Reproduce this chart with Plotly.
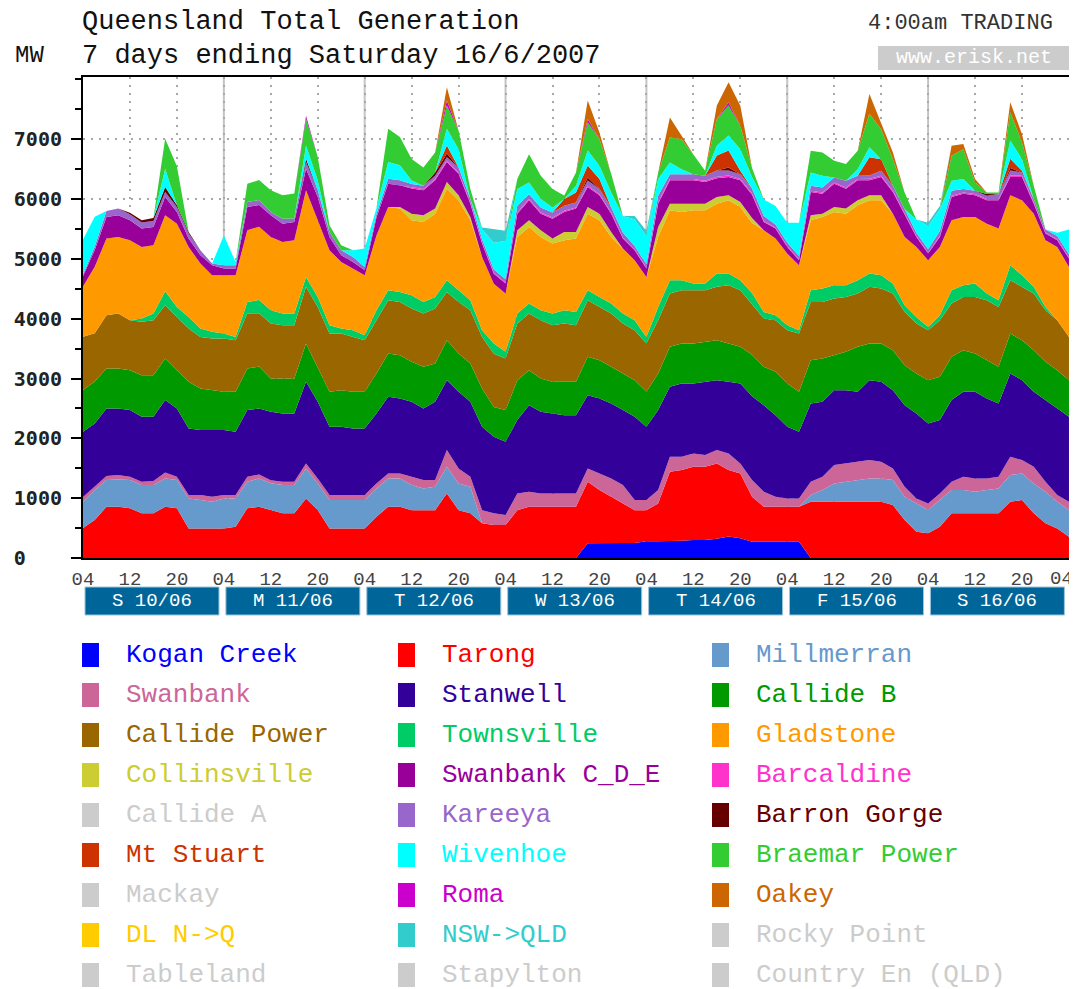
import plotly.graph_objects as go
import pandas as pd

# ---------------- data (MW, 2-hourly, trading days start 04:00) ----------------
times = pd.date_range("2007-06-10 04:00", "2007-06-17 04:00", freq="2h")

kogan_creek = [0,0,0,0,0,0,0,0,0,0,0,0, 0,0,0,0,0,0,0,0,0,0,0,0,
               0,0,0,0,0,0,0,0,0,0,0,0, 0,0,0,0,0,0,0,245,250,250,250,250,
               280,280,280,290,300,300,320,360,330,273,273,273, 273,273,0,0,0,0,0,0,0,0,0,0,
               0,0,0,0,0,0,0,0,0,0,0,0,0]
tarong = [500,635,857,857,830,746,746,857,830,495,495,495, 495,523,830,857,800,746,746,996,802,495,495,495,
          495,690,857,857,800,800,800,1080,800,746,580,551, 551,800,857,857,857,857,857,1030,886,774,663,550,
          520,633,1162,1180,1225,1225,1261,1110,1084,751,584,584, 584,584,941,941,941,941,941,941,941,885,635,440,
          412,523,746,746,746,746,746,941,969,746,579,495,356]
millmerran = [440,500,446,457,473,473,473,473,473,501,473,446, 501,473,445,473,450,473,473,501,445,474,474,474,
              474,473,473,473,419,363,391,445,447,445,0,0, 0,0,0,0,0,0,0,0,0,0,0,0,
              0,0,0,0,0,0,0,0,0,0,0,0, 0,0,111,195,306,334,362,389,389,418,389,473,
              390,446,390,390,362,390,417,445,445,501,529,446,446]
swanbank = [80,55,67,72,55,56,67,100,55,56,84,83, 56,56,83,67,50,56,56,84,83,83,83,83,
            83,84,84,84,139,140,112,279,251,167,220,195, 167,280,251,223,223,223,223,223,278,306,306,169,
            169,223,250,222,223,195,223,278,167,279,251,167, 139,139,223,222,306,306,306,307,279,195,167,83,
            111,111,139,222,222,194,195,306,223,278,167,111,139]
stanwell = [1090,1060,1130,1114,1114,1085,1074,1209,1142,1113,1086,1114, 1086,1058,1114,1103,1144,1141,1141,1364,1281,1141,1141,1114,
            1114,1169,1280,1252,1253,1197,1308,1169,1280,1253,1393,1280, 1225,1225,1447,1364,1336,1308,1308,1224,1252,1253,1253,1391,
            1224,1336,1169,1225,1169,1225,1169,1197,1336,1400,1447,1364, 1197,1114,1308,1253,1253,1225,1169,1336,1336,1308,1364,1420,
            1336,1225,1364,1420,1448,1336,1225,1392,1336,1253,1364,1448,1419]
callide_b = [700,700,668,668,668,696,696,696,640,780,696,668, 640,668,696,700,556,584,584,640,584,585,613,612,
             612,668,724,724,668,695,640,668,640,640,641,500, 529,668,585,556,529,557,557,640,641,612,612,613,
             585,612,668,668,668,668,668,640,612,696,640,724, 724,668,724,724,584,640,751,612,640,668,668,668,
             724,723,723,696,640,641,612,668,668,696,640,640,613]
callide_power = [890,805,890,918,835,891,919,890,890,891,862,863, 891,863,918,890,919,891,891,947,1002,974,946,918,
                 863,891,891,891,891,891,919,807,863,891,862,890, 863,946,946,975,946,974,946,947,890,891,835,835,
                 807,891,891,891,891,863,891,974,947,835,807,863, 891,974,974,946,947,918,891,947,919,946,891,835,
                 835,947,891,890,946,1002,1002,891,891,946,863,835,723]
townsville = [0,0,0,0,0,55,111,234,167,194,140,111, 83,55,195,223,223,195,195,166,167,139,84,112,
              83,167,167,167,222,195,194,195,195,167,112,168, 111,167,167,167,195,223,223,167,167,167,167,167,
              111,222,223,167,111,111,222,195,167,196,112,83, 83,56,195,223,223,196,223,222,222,167,111,111,
              55,83,223,196,223,111,112,250,194,112,55,0,0]
gladstone = [840,1115,1281,1281,1336,1198,1142,1269,1392,1170,1085,947, 975,1031,1197,1225,1225,1197,1225,1448,1281,1253,1113,1030,
             1002,1250,1392,1392,1253,1336,1392,1531,1503,1336,1225,1002, 974,1281,1281,1225,1169,1169,1225,1280,1281,1114,1086,1002,
             1003,1170,1169,1141,1225,1225,1169,1225,1225,1168,1364,1281, 1197,1085,1169,1196,1224,1196,1253,1225,1253,1169,1142,1170,
             1114,1142,1169,1140,1114,1169,1197,1169,1253,1224,1114,1225,1169]
collinsville = [0,0,0,0,0,0,0,0,0,0,0,0, 0,0,0,0,0,0,0,0,0,0,0,0,
                0,0,0,28,111,111,84,111,83,55,0,0, 0,111,111,111,84,139,111,112,111,83,0,0,
                0,167,111,139,111,111,112,83,83,84,0,0, 0,0,83,56,84,84,83,83,83,0,0,0,
                0,0,0,0,0,0,0,0,0,0,0,0,0]
swanbank_cde = [170,280,361,361,334,306,306,307,195,139,140,166, 111,111,389,361,361,306,306,362,390,223,112,111,
                84,300,389,362,420,418,473,334,362,223,223,167, 167,278,334,278,333,334,390,334,306,306,167,167,
                139,389,390,390,390,362,312,307,362,390,138,167, 112,84,390,334,389,334,334,251,307,362,362,167,
                111,167,390,390,362,390,473,307,390,167,111,111,140]
barcaldine = [0,0,0,0,0,0,0,0,0,0,0,0, 0,0,0,0,0,0,0,0,0,0,0,0,
              0,0,0,0,20,20,20,25,20,20,15,15, 15,20,20,20,20,20,20,25,20,20,15,15,
              15,20,20,20,20,20,25,25,20,20,15,15, 15,15,20,20,20,20,20,25,20,20,20,15,
              15,15,20,20,20,20,20,25,20,20,15,15,15]
callide_a = [0] * 85
kareeya = [30,55,100,112,100,100,100,83,83,83,83,28, 55,55,84,84,56,83,56,111,111,83,83,84,
           56,56,84,83,56,56,56,56,84,56,56,55, 56,111,83,84,84,83,84,83,84,84,83,56,
           55,112,83,83,83,84,105,83,83,83,84,55, 55,56,84,84,84,111,56,56,83,84,83,55,
           56,83,83,56,56,56,83,83,55,56,56,56,56]
barron_gorge = [0,0,0,0,28,40,50,82,30,28,0,0, 0,0,0,0,0,0,0,56,0,0,0,0,
                0,0,0,0,0,0,55,60,0,0,0,0, 0,0,0,0,0,0,0,50,0,0,0,0,
                0,0,0,0,0,0,0,50,0,0,0,0, 0,0,0,0,0,0,0,0,0,0,0,0,
                0,0,0,0,0,28,0,40,0,0,0,0,0]
mt_stuart = [0,0,0,0,0,0,0,0,0,0,0,0, 0,0,0,0,0,0,0,0,0,0,0,0,
             0,0,0,0,0,0,0,135,0,0,0,0, 0,0,0,0,0,112,167,201,167,0,0,0,
             0,0,0,0,0,0,251,284,56,0,0,0, 0,0,0,0,0,0,0,306,195,0,0,0,
             0,0,0,0,0,0,0,155,28,0,0,0,0]
wivenhoe = [585,500,0,0,0,0,0,308,0,0,0,0, 496,56,0,0,0,0,0,222,167,0,0,111,
            306,100,278,251,56,0,0,278,306,0,167,446, 640,279,195,139,84,0,111,250,223,250,278,445,
            474,278,195,84,0,0,167,251,362,195,279,307, 335,556,222,195,0,0,111,167,0,0,0,223,
            390,362,167,167,0,0,0,306,195,0,0,55,417]
braemar = [0,0,0,0,0,0,0,501,650,0,0,0, 0,0,306,334,362,390,420,446,390,111,84,0,
           0,0,557,473,361,306,334,390,306,167,0,0, 0,167,473,390,306,61,223,473,445,310,0,0,
           0,111,418,501,330,83,445,501,390,150,0,0, 0,0,362,389,278,279,306,560,501,445,278,0,
           0,0,418,501,140,28,28,473,278,223,0,0,0]
mackay = [0] * 85
roma = [0,0,0,0,0,0,0,0,0,0,0,0, 0,0,0,0,0,0,0,50,0,0,0,0,
        0,0,0,0,0,0,0,83,0,0,0,0, 0,0,0,0,0,0,0,56,0,0,0,0,
        0,0,0,0,0,0,0,55,0,0,0,0, 0,0,0,0,0,0,0,0,0,0,0,0,
        0,0,0,0,0,0,0,0,0,0,0,0,0]
oakey = [0,0,0,0,0,0,0,0,0,0,0,0, 0,0,0,0,0,0,0,0,0,0,0,0,
         0,0,0,0,0,0,0,223,0,0,0,0, 0,0,0,0,0,0,0,306,111,0,0,0,
         0,0,334,56,0,0,223,334,334,0,0,0, 0,0,0,0,0,0,0,330,111,111,0,0,
         0,0,167,84,56,0,0,167,139,0,0,0,0]
dl_n_q = [0] * 85
nsw_qld = [0,0,0,0,0,0,0,0,0,0,0,0, 0,0,0,0,0,0,0,0,0,0,0,0,
           0,0,0,0,0,0,0,0,0,0,30,222, 170,0,0,0,0,0,0,0,0,0,0,55,
           83,0,0,0,0,0,0,0,0,0,0,0, 0,0,0,0,0,0,0,0,0,0,0,0,
           55,56,0,0,0,0,0,0,0,0,0,0,0]
rocky_point = [0] * 85
tableland = [0] * 85
stapylton = [0] * 85
country_en = [0] * 85

day_labels = ["S 10/06", "M 11/06", "T 12/06", "W 13/06", "T 14/06", "F 15/06", "S 16/06"]
x_tick_times = list(times[::4])
x_tick_labels = [t.strftime("%H") for t in x_tick_times]
y_tick_values = [0, 1000, 2000, 3000, 4000, 5000, 6000, 7000]
y_tick_labels = ["0\u00a0\u00a0\u00a0", "1000", "2000", "3000", "4000", "5000", "6000", "7000"]

# stacking order == legend order (row-wise, 3 columns)
series = [
    ("Kogan Creek", "#0000ff", kogan_creek), ("Tarong", "#ff0000", tarong), ("Millmerran", "#6699cc", millmerran),
    ("Swanbank", "#cc6699", swanbank), ("Stanwell", "#330099", stanwell), ("Callide B", "#009900", callide_b),
    ("Callide Power", "#996600", callide_power), ("Townsville", "#00cc66", townsville), ("Gladstone", "#ff9900", gladstone),
    ("Collinsville", "#cccc33", collinsville), ("Swanbank C_D_E", "#990099", swanbank_cde), ("Barcaldine", "#ff33cc", barcaldine),
    ("Callide A", "#cccccc", callide_a), ("Kareeya", "#9966cc", kareeya), ("Barron Gorge", "#660000", barron_gorge),
    ("Mt Stuart", "#cc3300", mt_stuart), ("Wivenhoe", "#00ffff", wivenhoe), ("Braemar Power", "#33cc33", braemar),
    ("Mackay", "#cccccc", mackay), ("Roma", "#cc00cc", roma), ("Oakey", "#cc6600", oakey),
    ("DL N->Q", "#ffcc00", dl_n_q), ("NSW->QLD", "#33cccc", nsw_qld), ("Rocky Point", "#cccccc", rocky_point),
    ("Tableland", "#cccccc", tableland), ("Stapylton", "#cccccc", stapylton), ("Country En (QLD)", "#cccccc", country_en),
]

# ---------------- figure ----------------
# page coordinates of the reference (the html body adds an 8px margin, compensated below)
PAGE_W, PAGE_H = 1077, 989
BODY = 8
L, R, T, B = 83, 1069, 77, 558
MONO = "Liberation Mono, DejaVu Sans Mono, monospace"


def px(xp):
    return (xp - L) / (R - L)


def py(yp):
    return (B - yp) / (B - T)


fig = go.Figure()
for name, color, vals in series:
    fig.add_trace(go.Scatter(
        x=times, y=vals, name=name, stackgroup="gen", mode="lines",
        line=dict(width=0, color=color), fillcolor=color, showlegend=False,
        hovertemplate=name + ": %{y} MW<extra></extra>"))

shapes = []
annotations = []

# solid day separators
for d in range(1, 7):
    t = times[0] + pd.Timedelta(days=d)
    shapes.append(dict(type="line", xref="x", yref="paper", x0=t, x1=t, y0=0, y1=1,
                       line=dict(color="#c4c4c4", width=2), layer="between"))

# the last hour label sits at the right edge of the page: drawn right-aligned so it is not clipped
axis_ticktext = x_tick_labels[:-1] + [""]
annotations.append(dict(xref="paper", yref="paper", x=px(1074), y=py(579), text=x_tick_labels[-1],
                        showarrow=False, xanchor="right", yanchor="middle", borderpad=0,
                        font=dict(family=MONO, size=19, color="#444")))

# day boxes under the time axis
for d, lab in enumerate(day_labels):
    x0 = 85 + 140.9 * d
    x1 = x0 + 134
    shapes.append(dict(type="rect", xref="paper", yref="paper", x0=px(x0), x1=px(x1), y0=py(615), y1=py(587),
                       fillcolor="#006699", line=dict(color="#9cc4dc", width=1), layer="above"))
    annotations.append(dict(xref="paper", yref="paper", x=px((x0 + x1) / 2), y=py(601), text=lab,
                            showarrow=False, font=dict(family=MONO, size=19, color="white"),
                            xanchor="center", yanchor="middle"))

# titles
annotations += [
    dict(xref="paper", yref="paper", x=px(80), y=py(22), text="Queensland Total Generation", showarrow=False,
         xanchor="left", yanchor="middle", font=dict(family=MONO, size=27, color="#111")),
    dict(xref="paper", yref="paper", x=px(80), y=py(56), text="7 days ending Saturday 16/6/2007", showarrow=False,
         xanchor="left", yanchor="middle", font=dict(family=MONO, size=27, color="#111")),
    dict(xref="paper", yref="paper", x=px(13), y=py(55), text="MW", showarrow=False,
         xanchor="left", yanchor="middle", font=dict(family=MONO, size=24, color="#111")),
    dict(xref="paper", yref="paper", x=px(1055), y=py(23), text="4:00am TRADING", showarrow=False,
         xanchor="right", yanchor="middle", font=dict(family=MONO, size=22, color="#333")),
    dict(xref="paper", yref="paper", x=px(974), y=py(58), text="www.erisk.net", showarrow=False,
         xanchor="center", yanchor="middle", font=dict(family=MONO, size=20, color="white")),
]
shapes.append(dict(type="rect", xref="paper", yref="paper", x0=px(878), x1=px(1070), y0=py(70), y1=py(46),
                   fillcolor="#cccccc", line=dict(width=0), layer="above"))

# custom 3-column legend
col_sq = [82, 398, 712]
col_tx = [124, 440, 754]
for i, (name, color, _) in enumerate(series):
    r, c = divmod(i, 3)
    yc = 655 + 40 * r
    shapes.append(dict(type="rect", xref="paper", yref="paper", x0=px(col_sq[c]), x1=px(col_sq[c] + 17),
                       y0=py(yc + 12), y1=py(yc - 12), fillcolor=color, line=dict(width=0), layer="above"))
    annotations.append(dict(xref="paper", yref="paper", x=px(col_tx[c]), y=py(yc), text=name, showarrow=False,
                            xanchor="left", yanchor="middle", font=dict(family=MONO, size=26, color=color)))

fig.update_layout(
    width=PAGE_W - BODY, height=PAGE_H - BODY,
    margin=dict(l=L - BODY, r=PAGE_W - R, t=T - BODY, b=PAGE_H - B, pad=0, autoexpand=False),
    plot_bgcolor="white", paper_bgcolor="white", showlegend=False,
    font=dict(family=MONO), shapes=shapes, annotations=annotations,
    hovermode="x unified",
)
fig.update_xaxes(
    type="date", range=[times[0], times[-1] + pd.Timedelta(seconds=20)],
    tickmode="array", tickvals=x_tick_times, ticktext=axis_ticktext,
    showgrid=True, gridcolor="#a8a8a8", griddash="2px,6px", gridwidth=2,
    showline=True, linecolor="black", linewidth=2, mirror=True, ticks="", ticklabelstandoff=2,
    automargin=False,
    tickfont=dict(family=MONO, size=19, color="#444"), zeroline=False, fixedrange=True,
)
fig.update_yaxes(
    range=[0, 8040], tickmode="array", tickvals=y_tick_values, ticktext=y_tick_labels,
    showgrid=True, gridcolor="#a8a8a8", griddash="2px,6px", gridwidth=2,
    ticks="outside", ticklen=10, tickwidth=2, tickcolor="black", ticklabelstandoff=5, automargin=False,
    minor=dict(tickmode="linear", tick0=0, dtick=500, ticks="outside", ticklen=6, tickwidth=2,
               tickcolor="black", showgrid=False),
    showline=True, linecolor="black", linewidth=2, mirror=True,
    tickfont=dict(family="DejaVu Sans Mono, monospace", size=20, color="#222", weight="bold"),
    zeroline=False, fixedrange=True,
)

fig.write_html("out.html")
